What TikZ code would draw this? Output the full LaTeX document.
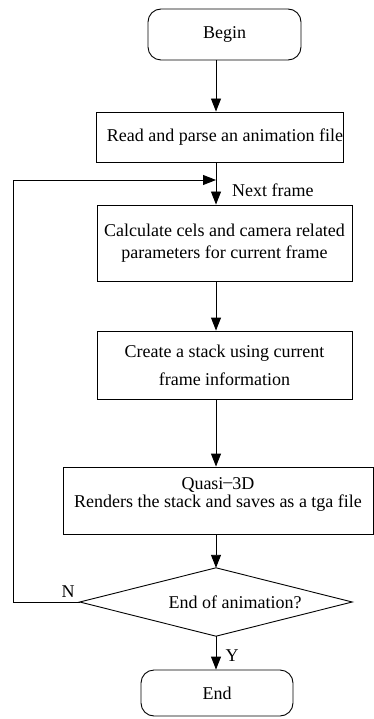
\documentclass[tikz,border=0pt]{standalone}
\usepackage{fontspec}
\setmainfont{Liberation Serif}
\usetikzlibrary{arrows.meta}
\begin{document}
\begin{tikzpicture}[x=1pt,y=1pt,
  every node/.style={font=\fontsize{18}{22}\selectfont},
  procbox/.style={draw, line width=0.9pt, inner sep=0pt, align=center},
  termbox/.style={draw, line width=0.9pt, rounded corners=13pt, inner sep=0pt},
  flow/.style={line width=0.9pt, -{Triangle[width=10pt,length=13pt]}},
  plain/.style={line width=0.9pt}]
\useasboundingbox (0,0) rectangle (374,-719);
% nodes
\node[termbox, minimum width=153pt, minimum height=51pt] (begin) at (224.5,-34.5) {Begin};
\node[procbox, minimum width=246pt, minimum height=50pt] (read) at (220,-137) {\hspace*{10pt}Read and parse an animation file};
\node[procbox, minimum width=255pt, minimum height=76pt] (calc) at (224.5,-243) {Calculate cels and camera related\\parameters for current frame};
\node[procbox, minimum width=255pt, minimum height=68pt] (create) at (224.5,-365) {Create a stack using current\\[6pt]frame information};
\node[procbox, minimum width=310pt, minimum height=67pt] (quasi) at (218,-500.5) {};
\node[align=center, inner sep=0pt, font=\fontsize{18}{18}\selectfont] (quasitxt) at ([yshift=6pt]quasi.center) {Quasi\raisebox{0.25ex}{\textendash}3D\\Renders the stack and saves as a tga file};
\node[minimum width=272pt, minimum height=68pt, inner sep=0pt] (dec) at (216,-602) {\hspace*{38pt}End of animation?};
\draw[line width=0.9pt] (dec.north) -- (dec.east) -- (dec.south) -- (dec.west) -- cycle;
\node[termbox, minimum width=152pt, minimum height=46pt] (end) at (217,-693) {End};
% connectors
\coordinate (loopin) at (216,-180);
\coordinate (loopcorner) at (13,-602);
\draw[flow] (begin.south -| loopin) -- (read.north -| loopin);
\draw[flow] (read.south -| loopin) -- (calc.north -| loopin);
\draw[flow] (dec.west) -- (loopcorner) |- (loopin);
\draw[flow] (calc.south -| loopin) -- (create.north -| loopin);
\draw[flow] (create.south -| loopin) -- (quasi.north -| loopin);
\draw[flow] (quasi.south -| loopin) -- (dec.north);
\draw[flow] (dec.south) -- (end.north -| dec.south);
% labels
\node[anchor=west, inner sep=0pt] (nextlbl) at (232,-190) {Next frame};
\node[inner sep=0pt] (nlbl) at (68,-592) {N};
\node[inner sep=0pt] (ylbl) at (232,-656) {Y};
\end{tikzpicture}
\end{document}
